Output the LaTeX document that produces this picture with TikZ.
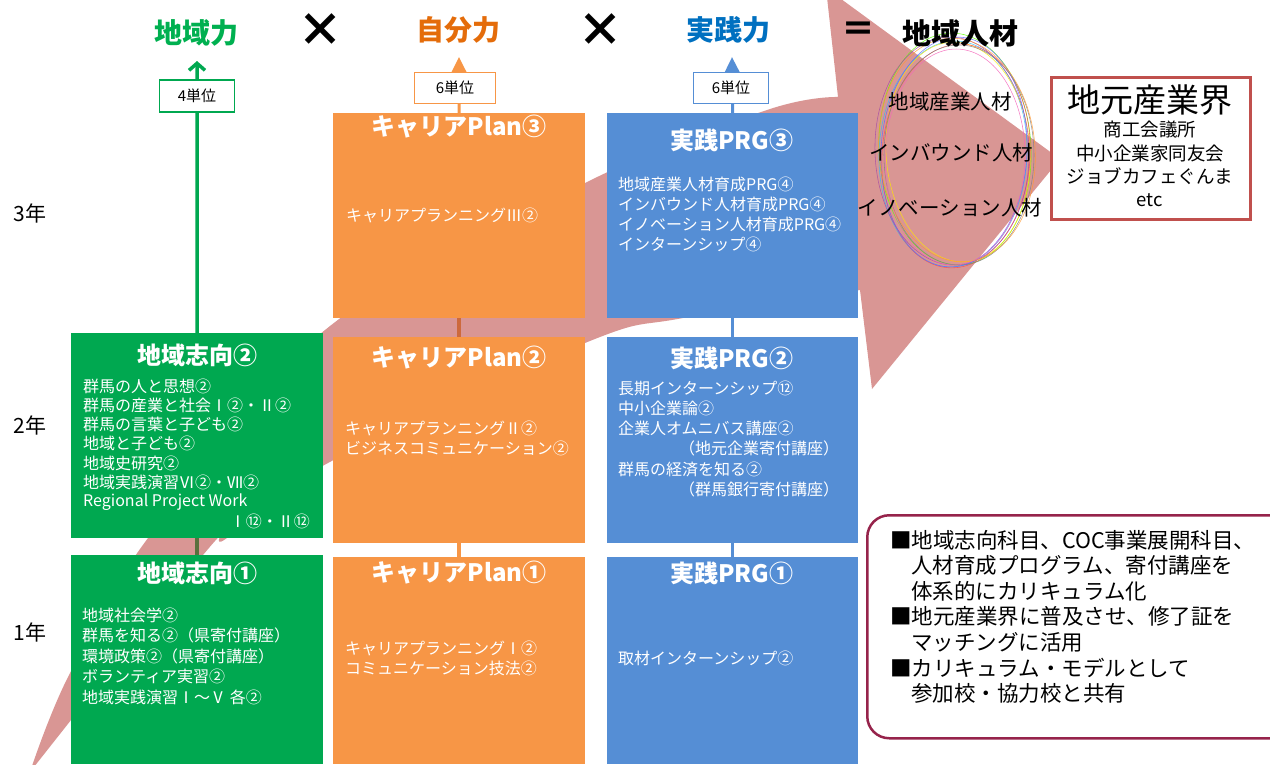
\documentclass[tikz,border=0pt]{standalone}
\usepackage{fontspec}
\setmainfont{Noto Sans CJK JP}
\usetikzlibrary{positioning,arrows.meta,shapes.geometric}
\definecolor{chiikigreen}{RGB}{0,168,80}
\definecolor{titlegreen}{RGB}{0,176,80}
\definecolor{planorange}{RGB}{247,150,70}
\definecolor{titleorange}{RGB}{228,108,10}
\definecolor{prgblue}{RGB}{85,142,213}
\definecolor{titleblue}{RGB}{0,112,192}
\definecolor{arrowpink}{RGB}{217,150,148}
\definecolor{jimotored}{RGB}{192,80,77}
\definecolor{notecrimson}{RGB}{150,35,75}

\begin{document}
\begin{tikzpicture}[x=1pt, y=-1pt,
  box/.style={anchor=north west, inner sep=0pt, minimum width=252pt},
  boxtitle/.style={text=white, font=\fontsize{24}{28}\selectfont\bfseries},
  item/.style={text=white, anchor=west, inner sep=0pt, font=\fontsize{16}{19}\selectfont},
  unitbox/.style={draw, fill=white, line width=1.6pt, inner sep=0pt, minimum height=31pt, font=\fontsize{15}{18}\selectfont},
  headline/.style={font=\fontsize{28}{32}\selectfont\bfseries},
  sign/.style={font=\fontsize{46}{48}\selectfont\bfseries},
  jinzai/.style={font=\fontsize{20.5}{24}\selectfont},
  year/.style={anchor=west, font=\fontsize{21}{24}\selectfont},
  notetext/.style={anchor=west, inner sep=0pt, font=\fontsize{21.5}{24}\selectfont}]
\useasboundingbox (0,0) rectangle (1270,764);

% big arrow
\fill[arrowpink] plot[smooth, tension=0.6] coordinates {(30,772) (68,677) (148,538) (325,330) (587,182) (767,110) (838,97)}
  -- (826,-12) -- (1060,159) -- (872,389)
  -- plot[smooth, tension=0.6] coordinates {(860,290) (683,318) (585,343) (328,463) (227,538) (203,555) (30,772)} -- cycle;

% boxes
\node[box, fill=chiikigreen, minimum height=205pt] (g2) at (71,333) {};
\node[box, fill=chiikigreen, minimum height=209pt] (g1) at (71,555) {};
\node[box, fill=planorange, minimum height=205pt] (o3) at (333,113) {};
\node[box, fill=planorange, minimum height=206pt] (o2) at (333,337) {};
\node[box, fill=planorange, minimum height=207pt] (o1) at (333,557) {};
\node[box, fill=prgblue, minimum width=251pt, minimum height=205pt] (b3) at (607,113) {};
\node[box, fill=prgblue, minimum width=251pt, minimum height=206pt] (b2) at (607,337) {};
\node[box, fill=prgblue, minimum width=251pt, minimum height=207pt] (b1) at (607,557) {};

% units
\coordinate (tip-g) at (197,61);
\coordinate (tip-o) at (459,57);
\coordinate (tip-b) at (732,57);
\draw[chiikigreen, line width=3.5pt, -{Straight Barb[length=7pt,width=16pt]}] (g2.north) -- (tip-g);
\draw[planorange, line width=3pt, -{Triangle[length=15pt,width=14pt]}] (o3.north) -- (tip-o);
\draw[prgblue, line width=3pt, -{Triangle[length=15pt,width=14pt]}] (b3.north) -- (tip-b);
\node[unitbox, draw=chiikigreen, minimum width=75pt, minimum height=32pt] (u-g) at (197,96) {4単位};
\node[unitbox, draw=planorange, minimum width=81pt] (u-o) at (455,88) {6単位};
\node[unitbox, draw=prgblue, minimum width=75pt] (u-b) at (731,88) {6単位};

\draw[line width=3.5pt, color={rgb,255:red,90;green,112;blue,62}] (g2.south) -- (g1.north);
\draw[line width=3.5pt, color={rgb,255:red,205;green,105;blue,60}] (o3.south) -- (o2.north);
\draw[line width=3.5pt, planorange] (o2.south) -- (o1.north);
\draw[line width=3.5pt, prgblue] (b3.south) -- (b2.north);
\draw[line width=3.5pt, prgblue] (b2.south) -- (b1.north);

% green column
\node[boxtitle] (g2-title) at (197,355) {地域志向②};
\foreach \t [count=\i] in {群馬の人と思想②, 群馬の産業と社会Ⅰ②・Ⅱ②, 群馬の言葉と子ども②, 地域と子ども②, 地域史研究②, 地域実践演習Ⅵ②・Ⅶ②, Regional Project Work}
  \node[item] (g2-\i) at (83,{386+(\i-1)*19.3}) {\t};
\node[item, anchor=east] (g2-8) at (310,521) {Ⅰ⑫・Ⅱ⑫};
\node[boxtitle] (g1-title) at (197,573) {地域志向①};
\foreach \t [count=\i] in {地域社会学②, 群馬を知る②（県寄付講座）, 環境政策②（県寄付講座）, ボランティア実習②, 地域実践演習Ⅰ～Ⅴ 各②}
  \node[item] (g1-\i) at (82,{615+(\i-1)*20.5}) {\t};

% orange column
\node[boxtitle] (o3-title) at (459,127) {キャリアPlan③};
\node[item] (o3-1) at (346,215) {キャリアプランニングⅢ②};
\node[boxtitle] (o2-title) at (459,358) {キャリアPlan②};
\foreach \t [count=\i] in {キャリアプランニングⅡ②, ビジネスコミュニケーション②}
  \node[item] (o2-\i) at (345,{428+(\i-1)*20}) {\t};
\node[boxtitle] (o1-title) at (459,573) {キャリアPlan①};
\foreach \t [count=\i] in {キャリアプランニングⅠ②, コミュニケーション技法②}
  \node[item] (o1-\i) at (345,{648+(\i-1)*20}) {\t};

% blue column
\node[boxtitle] (b3-title) at (732,140) {実践PRG③};
\foreach \t [count=\i] in {地域産業人材育成PRG④, インバウンド人材育成PRG④, イノベーション人材育成PRG④, インターンシップ④}
  \node[item] (b3-\i) at (618,{184+(\i-1)*20}) {\t};
\node[boxtitle] (b2-title) at (732,358) {実践PRG②};
\foreach \x/\t [count=\i] in {618/長期インターンシップ⑫, 618/中小企業論②, 618/企業人オムニバス講座②, 679/（地元企業寄付講座）, 618/群馬の経済を知る②, 679/（群馬銀行寄付講座）}
  \node[item] (b2-\i) at (\x,{388+(\i-1)*20.3}) {\t};
\node[boxtitle] (b1-title) at (732,573) {実践PRG①};
\node[item] (b1-1) at (618,658) {取材インターンシップ②};

% ellipses
\foreach \c/\dx/\dy/\rx/\ry/\r in {green!50!lime/0/-3/76/116/3, cyan!80/-2/2/74/113/-2, yellow!90!orange/3/0/72/110/4, red!70/1/4/74/112/-4, violet!70/-3/-1/77/114/2, gray/4/3/75/110/0, blue!60/-1/0/73/115/-3, orange!80/2/-2/78/112/5, magenta!60/0/5/70/108/-1}
  \draw[\c, line width=0.55pt, opacity=0.85] (955+\dx,152+\dy) ellipse [x radius=\rx pt, y radius=\ry pt, rotate=\r];
\node[jinzai] (j-1) at (950,102) {地域産業人材};
\node[jinzai] (j-2) at (951,153) {インバウンド人材};
\node[jinzai] (j-3) at (950,208) {イノベーション人材};

% jimoto
\node[box, draw=jimotored, line width=2.5pt, fill=white, minimum width=199pt, minimum height=142pt] (jimoto) at (1050,76) {};
\node[font=\fontsize{33}{36}\selectfont] (jimoto-t) at (1150,100) {地元産業界};
\foreach \t [count=\i] in {商工会議所, 中小企業家同友会, ジョブカフェぐんま, etc}
  \node[font=\fontsize{18.5}{22}\selectfont] (jimoto-\i) at (1150,{130+(\i-1)*23.3}) {\t};

% note
\node[box, draw=notecrimson, line width=2.5pt, rounded corners=22pt, fill=white, minimum width=430pt, minimum height=223pt] (note) at (866,514) {};
\foreach \x/\t [count=\i] in {890/■地域志向科目、COC事業展開科目、, 911/人材育成プログラム、寄付講座を, 911/体系的にカリキュラム化, 890/■地元産業界に普及させ、修了証を, 911/マッチングに活用, 890/■カリキュラム・モデルとして, 911/参加校・協力校と共有}
  \node[notetext] (n-\i) at (\x,{540+(\i-1)*25.5}) {\t};

% headlines
\node[headline, text=titlegreen] (h-chiiki) at (196,33) {地域力};
\node[sign] (x-1) at (320,30) {×};
\node[headline, text=titleorange] (h-jibun) at (458,30) {自分力};
\node[sign] (x-2) at (600,30) {×};
\node[headline, text=titleblue] (h-jissen) at (728,30) {実践力};
\node[font=\fontsize{34}{36}\selectfont\bfseries] (eq) at (858,32) {＝};
\node[headline, font=\fontsize{29}{32}\selectfont\bfseries] (h-jinzai) at (960,33) {地域人材};

% years
\node[year] (y-3) at (10,213) {3年};
\node[year] (y-2) at (10,425) {2年};
\node[year] (y-1) at (10,632) {1年};
\end{tikzpicture}
\end{document}
